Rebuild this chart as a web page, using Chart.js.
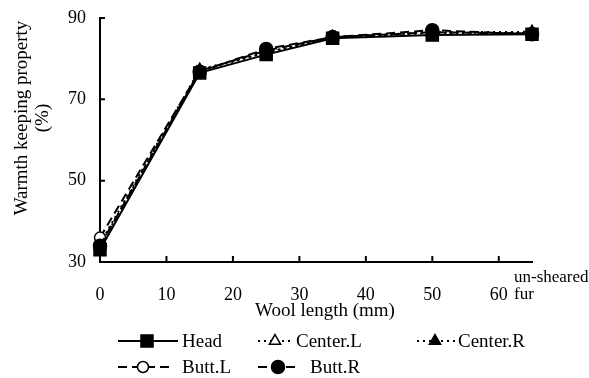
<!DOCTYPE html>
<html>
<head>
<meta charset="utf-8">
<script src="https://cdn.jsdelivr.net/npm/chart.js@4"></script>
<style>
    body { margin: 0; background: #fff; }
    #wrap { width: 589px; height: 378px; }
</style>
</head>
<body>
<div id="wrap"><canvas id="Chart1" width="589" height="378"></canvas></div>
<script>
// wool length (mm); 65 = un-sheared fur
var woolLength = [0, 15, 25, 35, 50, 65];
var xTicks = [0, 10, 20, 30, 40, 50, 60];
var yTicks = [30, 50, 70, 90];

var head    = [33.0, 76.5, 81.0, 85.0, 85.8, 86.0];
var centerL = [34.0, 77.0, 81.5, 85.3, 86.3, 86.3];
var centerR = [34.5, 77.3, 81.5, 85.3, 86.5, 86.6];
var buttL   = [36.0, 77.0, 82.0, 85.3, 86.5, 86.2];
var buttR   = [34.0, 76.8, 82.4, 85.3, 87.0, 86.0];

var serif = "'Liberation Serif', 'DejaVu Serif', serif";

function toPoints(values) {
    return values.map(function (v, i) { return { x: woolLength[i], y: v }; });
}

function makeSet(label, values, style, fill, dash, radius) {
    return {
        label: label,
        data: toPoints(values),
        borderColor: '#000',
        backgroundColor: fill,
        borderWidth: 2,
        borderDash: dash,
        pointStyle: style,
        pointRadius: radius,
        pointBackgroundColor: fill,
        pointBorderColor: '#000',
        pointBorderWidth: 1.5,
        tension: 0,
        clip: false
    };
}

// legend entries drawn under the plot
var legendPos = [
    { i: 4, x1: 118, x2: 178, mx: 147, tx: 182, y: 341 },
    { i: 3, x1: 258, x2: 293, mx: 275, tx: 296, y: 341 },
    { i: 2, x1: 417, x2: 455, mx: 435, tx: 458, y: 341 },
    { i: 1, x1: 118, x2: 170, mx: 143, tx: 182, y: 367 },
    { i: 0, x1: 258, x2: 296, mx: 278, tx: 310, y: 367 }
];

var decorPlugin = {
    id: 'decor',
    afterDraw: function (chart) {
        var ctx = chart.ctx;
        var xs = chart.scales.x, ys = chart.scales.y;
        var area = chart.chartArea;
        ctx.save();
        ctx.strokeStyle = '#000';
        ctx.fillStyle = '#000';
        ctx.lineWidth = 2;
        ctx.setLineDash([]);
        // inside tick marks
        ctx.beginPath();
        yTicks.forEach(function (v) {
            var py = ys.getPixelForValue(v);
            ctx.moveTo(area.left, py);
            ctx.lineTo(area.left + 5, py);
        });
        xTicks.forEach(function (v) {
            if (v === 0) return;
            var px = xs.getPixelForValue(v);
            ctx.moveTo(px, area.bottom);
            ctx.lineTo(px, area.bottom - 6);
        });
        ctx.stroke();

        // un-sheared fur label
        ctx.font = '17px ' + serif;
        ctx.textAlign = 'left';
        ctx.textBaseline = 'middle';
        ctx.fillText('un-sheared', 514, 278);
        ctx.fillText('fur', 514, 295);

        // axis titles
        ctx.font = '19px ' + serif;
        ctx.textAlign = 'center';
        ctx.fillText('Wool length (mm)', 325, 311);
        ctx.save();
        ctx.translate(22, 118);
        ctx.rotate(-Math.PI / 2);
        ctx.fillText('Warmth keeping property', 0, 0);
        ctx.restore();
        ctx.save();
        ctx.translate(43, 118);
        ctx.rotate(-Math.PI / 2);
        ctx.fillText('(%)', 0, 0);
        ctx.restore();

        // legend
        legendPos.forEach(function (p) {
            var ds = chart.data.datasets[p.i];
            ctx.lineWidth = 2;
            ctx.strokeStyle = '#000';
            ctx.setLineDash(ds.borderDash || []);
            ctx.beginPath();
            ctx.moveTo(p.x1, p.y);
            ctx.lineTo(p.x2, p.y);
            ctx.stroke();
            ctx.setLineDash([]);
            ctx.fillStyle = ds.pointBackgroundColor;
            ctx.lineWidth = ds.pointBorderWidth;
            Chart.helpers.drawPoint(ctx, {
                pointStyle: ds.pointStyle,
                radius: ds.pointRadius,
                rotation: 0,
                borderWidth: ds.pointBorderWidth
            }, p.mx, p.y);
            ctx.fillStyle = '#000';
            ctx.font = '19px ' + serif;
            ctx.textAlign = 'left';
            ctx.textBaseline = 'middle';
            ctx.fillText(ds.label, p.tx, p.y + 1);
        });
        ctx.restore();
    }
};

var ctx1 = document.getElementById('Chart1');
var crt1 = new Chart(ctx1, {
    type: 'line',
    data: {
        datasets: [
            makeSet('Butt.R', buttR, 'circle', '#000', [9, 5], 6.5),
            makeSet('Butt.L', buttL, 'circle', '#fff', [9, 5], 5.5),
            makeSet('Center.R', centerR, 'triangle', '#000', [2, 4], 6.5),
            makeSet('Center.L', centerL, 'triangle', '#fff', [2, 4], 6.5),
            makeSet('Head', head, 'rect', '#000', [], 8.5)
        ]
    },
    options: {
        responsive: false,
        animation: false,
        layout: { padding: { top: 18, right: 57, left: 0, bottom: 0 } },
        plugins: {
            legend: { display: false },
            tooltip: { enabled: false }
        },
        scales: {
            x: {
                type: 'linear',
                min: 0,
                max: 65,
                afterBuildTicks: function (scale) {
                    scale.ticks = xTicks.map(function (v) { return { value: v }; });
                },
                afterFit: function (scale) {
                    scale.height = 116;
                    scale.paddingLeft = 0;
                    scale.paddingRight = 0;
                },
                grid: { display: false, drawTicks: false },
                border: { display: true, color: '#000', width: 2 },
                ticks: {
                    color: '#000',
                    padding: 22,
                    maxRotation: 0,
                    font: { family: serif, size: 18 }
                }
            },
            y: {
                min: 30,
                max: 90,
                afterBuildTicks: function (scale) {
                    scale.ticks = yTicks.map(function (v) { return { value: v }; });
                },
                afterFit: function (scale) {
                    scale.width = 100;
                    scale.paddingTop = 0;
                    scale.paddingBottom = 0;
                },
                grid: { display: false, drawTicks: false },
                border: { display: true, color: '#000', width: 2 },
                ticks: {
                    color: '#000',
                    padding: 14,
                    font: { family: serif, size: 18 }
                }
            }
        }
    },
    plugins: [decorPlugin]
});
</script>
</body>
</html>
